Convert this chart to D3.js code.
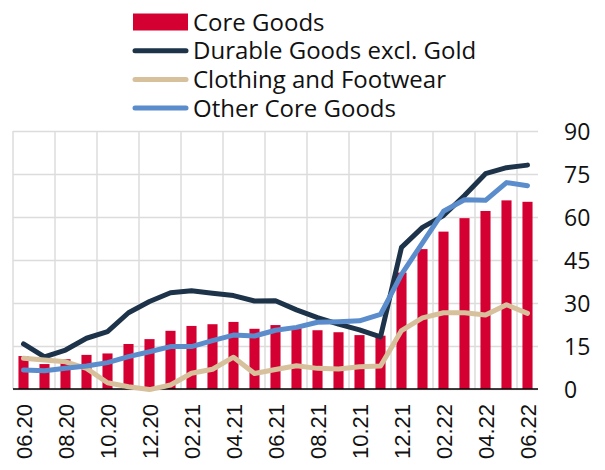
<!DOCTYPE html>
<html>
<head>
<meta charset="utf-8">
<script src="https://cdn.jsdelivr.net/npm/d3@7"></script>
<style>
  body { margin: 0; background: #fff; }
  svg { display: block; }
</style>
</head>
<body>
<svg width="605" height="470"></svg>
<script>
// monthly, 06.20 .. 06.22
var months = ['06.20','07.20','08.20','09.20','10.20','11.20','12.20','01.21','02.21','03.21','04.21','05.21',
  '06.21','07.21','08.21','09.21','10.21','11.21','12.21','01.22','02.22','03.22','04.22','05.22','06.22'];
var coreGoods = [11.5, 8.7, 10.4, 11.9, 12.4, 15.7, 17.4, 20.3, 22.0, 22.6, 23.4, 21.0,
  22.3, 21.2, 20.5, 19.8, 18.8, 18.6, 40.6, 48.8, 54.9, 59.6, 62.1, 65.8, 65.3];
var durable = [15.7, 11.2, 13.6, 17.7, 20.0, 26.6, 30.5, 33.6, 34.3, 33.4, 32.6, 30.7,
  30.8, 27.6, 24.9, 22.6, 20.6, 18.2, 49.4, 56.4, 60.5, 67.5, 75.1, 77.2, 78.1];
var clothing = [10.7, 10.1, 9.5, 7.2, 2.2, 0.8, -0.2, 1.4, 5.5, 6.9, 11.1, 5.4,
  6.8, 8.1, 7.2, 7.0, 7.8, 8.0, 20.4, 24.8, 26.6, 26.6, 25.8, 29.4, 26.4];
var otherCore = [6.6, 6.4, 7.2, 8.0, 9.2, 11.3, 13.0, 14.8, 14.8, 16.9, 18.8, 18.5,
  20.5, 21.5, 23.3, 23.5, 23.8, 26.0, 40.0, 51.0, 62.0, 66.0, 65.8, 72.0, 70.9];
var yTicks = [0, 15, 30, 45, 60, 75, 90];

var seriesNames = ['Core Goods', 'Durable Goods excl. Gold', 'Clothing and Footwear', 'Other Core Goods'];
var colors = ['#d50032', '#1d3349', '#d7c09c', '#5b8ccc'];

var svg = d3.select('svg');
var pLeft = 13, pRight = 538, pTop = 131, pBottom = 389;

var x = d3.scaleBand().domain(months).range([pLeft, pRight]).paddingInner(0.52).paddingOuter(0.26);
var y = d3.scaleLinear().domain([0, 90]).range([pBottom, pTop]);
var cx = function(d, i) { return x(months[i]) + x.bandwidth() / 2; };

// horizontal grid + right axis labels
var yAxis = d3.axisRight(y).tickValues(yTicks).tickSize(-(pRight - pLeft)).tickPadding(26);
var ga = svg.append('g').attr('transform', 'translate(' + pRight + ',0)').call(yAxis);
ga.select('.domain').remove();
ga.selectAll('line').attr('stroke', '#dcdcdc').attr('stroke-width', 1.5);
ga.selectAll('text').attr('fill', '#111').style('font-family', '"Open Sans", sans-serif').style('font-size', '23px')
  .attr('dy', '0.36em');

// vertical grid every two months
var gx = svg.append('g');
gx.selectAll('line').data(months.filter(function(d, i) { return i % 2 === 0; })).enter().append('line')
  .attr('x1', function(d) { return x(d) - x.step() * x.paddingInner() / 2; })
  .attr('x2', function(d) { return x(d) - x.step() * x.paddingInner() / 2; })
  .attr('y1', pTop).attr('y2', pBottom)
  .attr('stroke', '#dcdcdc').attr('stroke-width', 1.5);

// bars
svg.append('g').selectAll('rect').data(coreGoods).enter().append('rect')
  .attr('x', function(d, i) { return x(months[i]); })
  .attr('y', function(d) { return y(d); })
  .attr('width', x.bandwidth())
  .attr('height', function(d) { return y(0) - y(d); })
  .attr('fill', colors[0]);

// baseline
svg.append('line').attr('x1', pLeft).attr('x2', pRight).attr('y1', y(0)).attr('y2', y(0))
  .attr('stroke', '#000').attr('stroke-width', 1.5);

// lines
var line = d3.line().x(cx).y(function(d) { return y(d); });
[durable, clothing, otherCore].forEach(function(s, k) {
  svg.append('path').datum(s).attr('d', line)
    .attr('fill', 'none').attr('stroke', colors[k + 1]).attr('stroke-width', 5)
    .attr('stroke-linejoin', 'round').attr('stroke-linecap', 'round');
});

// x labels
svg.append('g').selectAll('text').data(months.filter(function(d, i) { return i % 2 === 0; })).enter().append('text')
  .attr('transform', function(d) { return 'translate(' + (x(d) + x.bandwidth() / 2 + 1) + ',404) rotate(-90)'; })
  .attr('dy', '0.36em')
  .attr('text-anchor', 'end')
  .style('font-family', '"Liberation Sans", Arial, sans-serif').style('font-size', '22px').attr('fill', '#111')
  .text(function(d) { return d; });

// legend
var lg = svg.append('g');
seriesNames.forEach(function(n, i) {
  var cy = 22 + i * 28.7;
  if (i === 0) {
    lg.append('rect').attr('x', 133).attr('y', cy - 8.5).attr('width', 55).attr('height', 17).attr('fill', colors[0]);
  } else {
    lg.append('line').attr('x1', 135).attr('x2', 186).attr('y1', cy).attr('y2', cy)
      .attr('stroke', colors[i]).attr('stroke-width', 5).attr('stroke-linecap', 'round');
  }
  lg.append('text').attr('x', 193).attr('y', cy).attr('dy', '0.36em')
    .style('font-family', '"Open Sans", sans-serif').style('font-size', '24px').attr('fill', '#111')
    .text(n);
});
</script>
</body>
</html>
